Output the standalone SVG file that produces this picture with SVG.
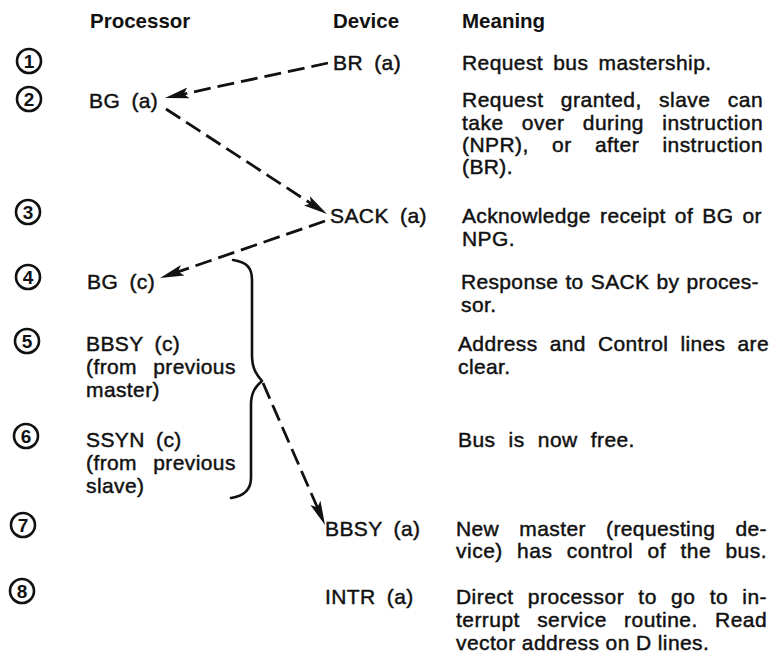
<svg xmlns="http://www.w3.org/2000/svg" width="781" height="655" viewBox="0 0 781 655">
<style>
text{font-family:"Liberation Sans",Arial,sans-serif;fill:#111;}
.h{font-size:20.5px;font-weight:bold;}
.t{font-size:21px;letter-spacing:0.4px;stroke:#111;stroke-width:0.45px;}
.lbl{word-spacing:5px;}
.num circle{fill:none;stroke:#111;stroke-width:2.6;}
.num text{font-size:19px;font-weight:bold;text-anchor:middle;}
.dash{fill:none;stroke:#111;stroke-width:2.8;stroke-dasharray:17 7;marker-end:url(#ah);}
.brace{fill:none;stroke:#111;stroke-width:2.6;stroke-linecap:round;stroke-linejoin:round;}
</style>
<defs>
<marker id="ah" viewBox="0 0 24 12" refX="11" refY="6" markerWidth="24" markerHeight="12" markerUnits="userSpaceOnUse" orient="auto">
<path d="M0,0.5 L24,6 L0,11.5 L5,6 z" fill="#111"/>
</marker>
</defs>
<rect width="781" height="655" fill="#fff"/>

<g id="headers">
<text class="h" x="90" y="28">Processor</text>
<text class="h" x="333" y="28">Device</text>
<text class="h" x="462" y="28">Meaning</text>
</g>

<g id="steps" class="num">
<g id="step1"><circle cx="29" cy="61" r="12"/><text x="29" y="68">1</text></g>
<g id="step2"><circle cx="29" cy="99" r="12"/><text x="29" y="106">2</text></g>
<g id="step3"><circle cx="28" cy="212" r="12"/><text x="28" y="219">3</text></g>
<g id="step4"><circle cx="28" cy="277" r="12"/><text x="28" y="284">4</text></g>
<g id="step5"><circle cx="27" cy="341" r="12"/><text x="27" y="348">5</text></g>
<g id="step6"><circle cx="26" cy="436" r="12"/><text x="26" y="443">6</text></g>
<g id="step7"><circle cx="23" cy="525" r="12"/><text x="23" y="532">7</text></g>
<g id="step8"><circle cx="22" cy="591" r="12"/><text x="22" y="598">8</text></g>
</g>

<g id="proc-bg-a"><text class="t lbl" x="89" y="108">BG (a)</text></g>
<g id="proc-bg-c"><text class="t lbl" x="87" y="289">BG (c)</text></g>
<g id="proc-bbsy-c">
<text class="t lbl" x="86" y="351">BBSY (c)</text>
<text class="t" x="86" y="374" style="word-spacing:10px">(from previous</text>
<text class="t" x="86" y="397">master)</text>
</g>
<g id="proc-ssyn-c">
<text class="t lbl" x="86" y="447">SSYN (c)</text>
<text class="t" x="86" y="470" style="word-spacing:10px">(from previous</text>
<text class="t" x="86" y="493">slave)</text>
</g>

<g id="dev-br-a"><text class="t lbl" x="333" y="70">BR (a)</text></g>
<g id="dev-sack-a"><text class="t lbl" x="330" y="223">SACK (a)</text></g>
<g id="dev-bbsy-a"><text class="t lbl" x="325" y="536">BBSY (a)</text></g>
<g id="dev-intr-a"><text class="t lbl" x="325" y="604">INTR (a)</text></g>

<g id="meaning">
<text class="t" x="462" y="70" style="word-spacing:4px">Request bus mastership.</text>
<text class="t" x="462" y="107" style="word-spacing:11px" textLength="301" lengthAdjust="spacing">Request granted, slave can</text>
<text class="t" x="462" y="130" style="word-spacing:12px" textLength="301" lengthAdjust="spacing">take over during instruction</text>
<text class="t" x="462" y="152" style="word-spacing:17px" textLength="301" lengthAdjust="spacing">(NPR), or after instruction</text>
<text class="t" x="462" y="174">(BR).</text>
<text class="t" x="462" y="223" style="word-spacing:3px" textLength="300" lengthAdjust="spacing">Acknowledge receipt of BG or</text>
<text class="t" x="462" y="246">NPG.</text>
<text class="t" x="461" y="289" style="word-spacing:1px" textLength="298" lengthAdjust="spacing">Response to SACK by proces-</text>
<text class="t" x="461" y="312">sor.</text>
<text class="t" x="458" y="351" style="word-spacing:6px" textLength="311" lengthAdjust="spacing">Address and Control lines are</text>
<text class="t" x="458" y="374">clear.</text>
<text class="t" x="458" y="447" style="word-spacing:7px">Bus is now free.</text>
<text class="t" x="456" y="536" style="word-spacing:14px" textLength="311" lengthAdjust="spacing">New master (requesting de-</text>
<text class="t" x="456" y="558" style="word-spacing:8px" textLength="311" lengthAdjust="spacing">vice) has control of the bus.</text>
<text class="t" x="456" y="604" style="word-spacing:8px" textLength="311" lengthAdjust="spacing">Direct processor to go to in-</text>
<text class="t" x="456" y="627" style="word-spacing:11px" textLength="311" lengthAdjust="spacing">terrupt service routine. Read</text>
<text class="t" x="456" y="650">vector address on D lines.</text>
</g>

<g id="connectors">
<path class="dash" d="M328,63 L177.7,95.3"/>
<path class="dash" d="M166,109 L316.1,206.9"/>
<path class="dash" d="M325,221 L172.3,273.8"/>
<path class="brace" d="M233,260 C247,262 252,268 252,280 L252,355 C252,368 256,374 262,381 C256,386 251,392 251,405 L251,478 C251,490 244,496 231,498"/>
<path class="dash" d="M263,383 L319.8,513"/>
</g>
</svg>
